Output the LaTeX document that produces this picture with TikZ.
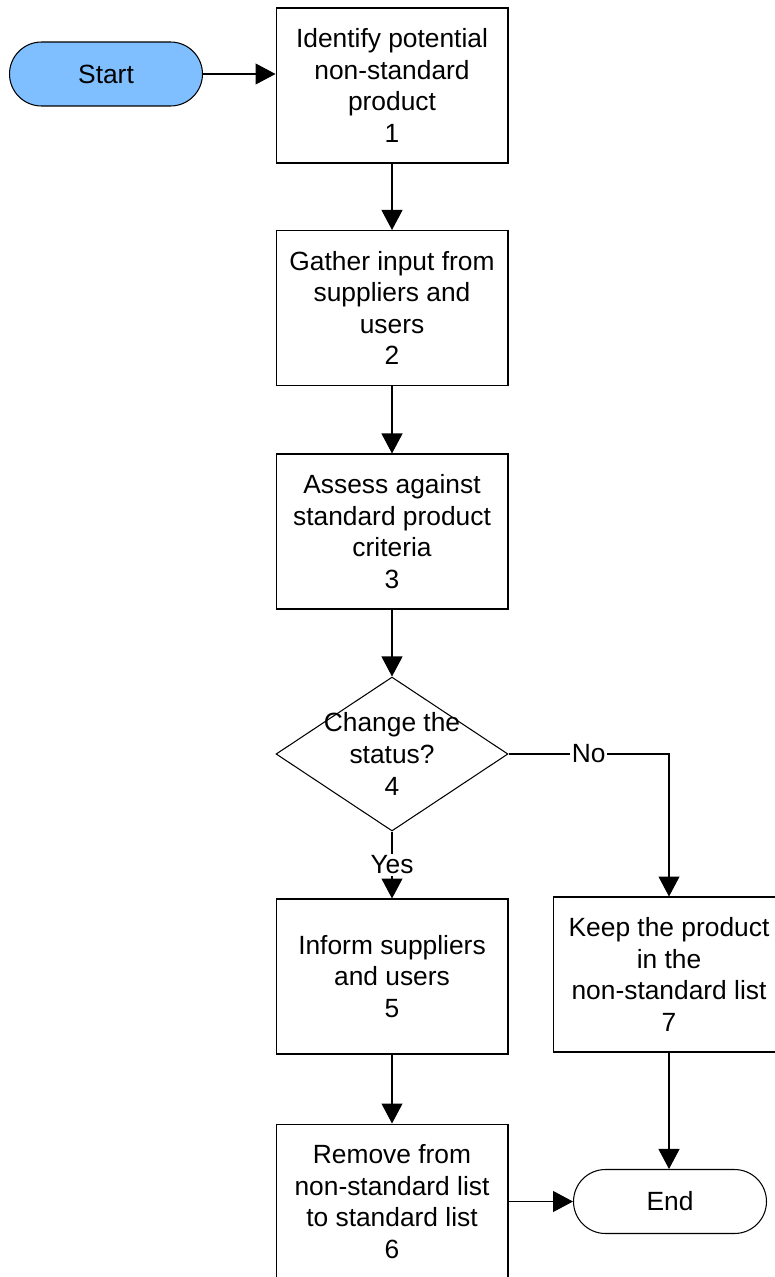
\documentclass[tikz,border=0pt]{standalone}
\usepackage{fontspec}
\setmainfont{Liberation Sans}
\usepackage{tikz}
\usetikzlibrary{shapes.geometric,arrows.meta}

\newcommand{\flowfont}{\fontsize{15}{18}\selectfont}
\definecolor{startblue}{RGB}{128,191,255}

\begin{document}
\begin{tikzpicture}[x=0.02cm,y=-0.02cm]
        \tikzstyle{every path}=[line width=0.6pt]
        \tikzstyle{procbox}=[draw,minimum width=4.64cm,minimum height=3.1cm,
            inner sep=0pt,align=center,font=\flowfont]
        \tikzstyle{terminal}=[draw,rounded corners=0.64cm,minimum width=3.86cm,
            minimum height=1.28cm,font=\flowfont]
        \tikzstyle{decision}=[draw,diamond,minimum width=4.64cm,
            minimum height=3.08cm,inner sep=0pt]
        \tikzstyle{flow}=[->,>={Triangle[length=0.4cm,width=0.42cm]}]
        \tikzstyle{answer}=[fill=white,inner sep=1pt,font=\flowfont]

        \useasboundingbox (0,0) rectangle (774,1277);

        %% Terminals
        \node[terminal,fill=startblue] (start) at (106,74) {Start};
        \node[terminal] (end) at (670,1201.5) {End};

        %% Main column
        \node[procbox] (step1) at (392,85.5)
            {Identify potential\\non-standard\\product\\1};
        \node[procbox] (step2) at (392,308)
            {Gather input from\\suppliers and\\users\\2};
        \node[procbox] (step3) at (392,531.5)
            {Assess against\\standard product\\criteria\\3};
        \node[decision,label={[font=\flowfont,align=center]center:{Change the\\status?\\4}}]
            (step4) at (392,754) {};
        \node[procbox] (step5) at (392,976.5)
            {Inform suppliers\\and users\\5};
        \node[procbox] (step6) at (392,1201.5)
            {Remove from\\non-standard list\\to standard list\\6};

        %% Side branch
        \node[procbox] (step7) at (669,974.5)
            {Keep the product\\in the\\non-standard list\\7};

        % Edges
        \draw[flow] (start.east) -- (start.east -| step1.west);
        \draw[flow] (step1) -- (step2);
        \draw[flow] (step2) -- (step3);
        \draw[flow] (step3) -- (step4);
        \draw[flow] (step4.south) -- node[answer] {Yes} (step5.north);
        \draw[flow] (step4.east) -| node[answer,pos=0.25] {No} (step7.north);
        \draw[flow] (step5) -- (step6);
        \draw[flow] (step6.east) -- (end.west);
        \draw[flow] (step7.south) -- (step7.south |- end.north);
\end{tikzpicture}
\end{document}
